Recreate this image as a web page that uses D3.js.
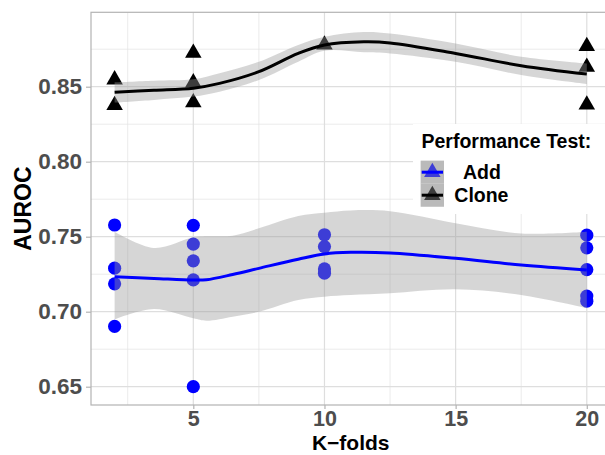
<!DOCTYPE html>
<html>
<head>
<meta charset="utf-8">
<script src="https://cdn.jsdelivr.net/npm/d3@7"></script>
<style>
  html, body { margin: 0; padding: 0; background: #fff; }
  svg { display: block; font-family: "Liberation Sans", Arial, Helvetica, sans-serif; }
</style>
</head>
<body>
<svg id="chart" width="605" height="455"></svg>
<script>
// Observed AUROC per repeat, by number of folds
const addK      = [2, 2, 2, 2, 5, 5, 5, 5, 5, 10, 10, 10, 10, 20, 20, 20, 20, 20];
const addAuroc  = [0.7578, 0.7290, 0.7186, 0.6902, 0.7576, 0.7451, 0.7339, 0.7212, 0.6500,
                   0.7513, 0.7434, 0.7285, 0.7257, 0.7510, 0.7426, 0.7280, 0.7104, 0.7070];
const cloneK     = [2, 2, 5, 5, 5, 10, 20, 20, 20];
const cloneAuroc = [0.8547, 0.8376, 0.8724, 0.8527, 0.8394, 0.8779, 0.8770, 0.8631, 0.8380];

// Smoothed trend (fit with confidence band) sampled along K
const addSmoothK   = [2, 3.5, 5, 5.5, 6.5, 7.5, 9, 10, 11, 12.5, 15, 17.5, 20];
const addFit       = [0.7233, 0.7222, 0.7211, 0.7213, 0.7248, 0.7289, 0.7350, 0.7385, 0.7396, 0.7392, 0.7356, 0.7311, 0.7278];
const addLower     = [0.6949, 0.7018, 0.6956, 0.6940, 0.6967, 0.7000, 0.7078, 0.7100, 0.7111, 0.7123, 0.7149, 0.7111, 0.7023];
const addUpper     = [0.7533, 0.7425, 0.7496, 0.7503, 0.7507, 0.7556, 0.7638, 0.7660, 0.7675, 0.7670, 0.7590, 0.7522, 0.7533];

const cloneSmoothK = [2, 3.5, 5, 6, 7.5, 9, 10, 11.5, 12.5, 15, 17.5, 20];
const cloneFit     = [0.8463, 0.8476, 0.8490, 0.8522, 0.8600, 0.8722, 0.8778, 0.8799, 0.8792, 0.8722, 0.8640, 0.8584];
const cloneLower   = [0.8394, 0.8412, 0.8434, 0.8467, 0.8545, 0.8667, 0.8740, 0.8729, 0.8722, 0.8666, 0.8578, 0.8518];
const cloneUpper   = [0.8529, 0.8540, 0.8549, 0.8589, 0.8666, 0.8778, 0.8833, 0.8865, 0.8855, 0.8788, 0.8700, 0.8655];

const xTicks = [5, 10, 15, 20];
const xMinor = [2.5, 7.5, 12.5, 17.5];
const yTicks = [0.65, 0.70, 0.75, 0.80, 0.85];
const yMinor = [0.675, 0.725, 0.775, 0.825, 0.875];

const legendTitle = "Performance Test:";
const groups = ["Add", "Clone"];
const groupColor = { Add: "#0000ff", Clone: "#000000" };

const svg = d3.select("#chart");
const panel = { left: 91, right: 610.4, top: 12.3, bottom: 405 };

const x = d3.scaleLinear().domain([1.1, 20.9]).range([panel.left, panel.right]);
const y = d3.scaleLinear().domain([0.6378, 0.8996]).range([panel.bottom, panel.top]);

svg.append("defs").append("clipPath").attr("id", "panelClip")
  .append("rect")
  .attr("x", panel.left).attr("y", panel.top)
  .attr("width", panel.right - panel.left).attr("height", panel.bottom - panel.top);

// grid
const grid = svg.append("g");
grid.selectAll(".xmin").data(xMinor).join("line")
  .attr("x1", d => x(d)).attr("x2", d => x(d))
  .attr("y1", panel.top).attr("y2", panel.bottom)
  .attr("stroke", "#e3e3e3").attr("stroke-width", 0.7);
grid.selectAll(".ymin").data(yMinor).join("line")
  .attr("y1", d => y(d)).attr("y2", d => y(d))
  .attr("x1", panel.left).attr("x2", panel.right)
  .attr("stroke", "#e3e3e3").attr("stroke-width", 0.7);
grid.selectAll(".xmaj").data(xTicks).join("line")
  .attr("x1", d => x(d)).attr("x2", d => x(d))
  .attr("y1", panel.top).attr("y2", panel.bottom)
  .attr("stroke", "#dedede").attr("stroke-width", 1.2);
grid.selectAll(".ymaj").data(yTicks).join("line")
  .attr("y1", d => y(d)).attr("y2", d => y(d))
  .attr("x1", panel.left).attr("x2", panel.right)
  .attr("stroke", "#dedede").attr("stroke-width", 1.2);

const plot = svg.append("g").attr("clip-path", "url(#panelClip)");

// points
const tri = d3.symbol().type(d3.symbolTriangle).size(118);
plot.selectAll(".add").data(addK.map((k, i) => [k, addAuroc[i]])).join("circle")
  .attr("cx", d => x(d[0])).attr("cy", d => y(d[1])).attr("r", 6.6)
  .attr("fill", groupColor.Add);
plot.selectAll(".clone").data(cloneK.map((k, i) => [k, cloneAuroc[i]])).join("path")
  .attr("d", tri)
  .attr("transform", d => `translate(${x(d[0])},${y(d[1])})`)
  .attr("fill", groupColor.Clone);

// smooth bands and fitted lines
const curve = d3.curveCatmullRom.alpha(0.5);
function smooth(ks, fit, lo, hi, color) {
  const rows = ks.map((k, i) => ({ k, fit: fit[i], lo: lo[i], hi: hi[i] }));
  plot.append("path").datum(rows)
    .attr("d", d3.area().x(d => x(d.k)).y0(d => y(d.lo)).y1(d => y(d.hi)).curve(curve))
    .attr("fill", "#999999").attr("fill-opacity", 0.4);
  return () => plot.append("path").datum(rows)
    .attr("d", d3.line().x(d => x(d.k)).y(d => y(d.fit)).curve(curve))
    .attr("fill", "none").attr("stroke", color).attr("stroke-width", 3);
}
const addLine = smooth(addSmoothK, addFit, addLower, addUpper, groupColor.Add);
const cloneLine = smooth(cloneSmoothK, cloneFit, cloneLower, cloneUpper, groupColor.Clone);
addLine();
cloneLine();

// panel border
svg.append("rect")
  .attr("x", panel.left).attr("y", panel.top)
  .attr("width", panel.right - panel.left).attr("height", panel.bottom - panel.top)
  .attr("fill", "none").attr("stroke", "#b3b3b3").attr("stroke-width", 1.2);

// axes
const yAxis = svg.append("g").attr("transform", `translate(${panel.left},0)`)
  .call(d3.axisLeft(y).tickValues(yTicks).tickFormat(d3.format(".2f")).tickSize(5).tickPadding(4));
const xAxis = svg.append("g").attr("transform", `translate(0,${panel.bottom})`)
  .call(d3.axisBottom(x).tickValues(xTicks).tickFormat(d3.format("d")).tickSize(4).tickPadding(2));
[yAxis, xAxis].forEach(a => {
  a.select(".domain").remove();
  a.selectAll(".tick line").attr("stroke", "#b3b3b3").attr("stroke-width", 1.2);
  a.selectAll(".tick text").attr("fill", "#4d4d4d").attr("font-size", 22.5)
    .attr("font-weight", "bold").attr("font-family", "Liberation Sans, Arial, sans-serif");
});
xAxis.selectAll(".tick text").attr("font-size", 21.5);

// axis titles
svg.append("text")
  .attr("x", (panel.left + panel.right) / 2).attr("y", 450)
  .attr("text-anchor", "middle").attr("font-size", 21).attr("font-weight", "bold")
  .attr("fill", "#000").text("K\u2212folds");
svg.append("text")
  .attr("transform", `translate(30.5,${(panel.top + panel.bottom) / 2}) rotate(-90)`)
  .attr("text-anchor", "middle").attr("font-size", 23).attr("font-weight", "bold")
  .attr("fill", "#000").text("AUROC");

// legend
const lg = svg.append("g");
lg.append("rect").attr("x", 413).attr("y", 124).attr("width", 200).attr("height", 90).attr("fill", "#fff");
lg.append("text").attr("x", 421.5).attr("y", 148.3)
  .attr("font-size", 19.5).attr("font-weight", "bold").attr("fill", "#000").text(legendTitle);
const keyX = 420.7, keyW = 23.3, keyH = 23, keyY0 = 160.7;
const labelX = { Add: 463, Clone: 454.3 };
const labelY = { Add: 178.6, Clone: 201.8 };
groups.forEach((g, i) => {
  const ky = keyY0 + i * keyH;
  const cx = keyX + keyW / 2, cy = ky + keyH / 2;
  lg.append("rect").attr("x", keyX).attr("y", ky).attr("width", keyW).attr("height", keyH)
    .attr("fill", "#d0d0d0");
  lg.append("path").attr("d", tri).attr("transform", `translate(${cx},${cy})`)
    .attr("fill", groupColor[g]);
  lg.append("rect").attr("x", keyX).attr("y", ky).attr("width", keyW).attr("height", keyH)
    .attr("fill", "#999999").attr("fill-opacity", 0.4);
  lg.append("line").attr("x1", keyX + 1).attr("x2", keyX + keyW - 1)
    .attr("y1", cy).attr("y2", cy)
    .attr("stroke", groupColor[g]).attr("stroke-width", 3);
  lg.append("text").attr("x", labelX[g]).attr("y", labelY[g])
    .attr("font-size", 19.5).attr("font-weight", "bold").attr("fill", "#000").text(g);
});
</script>
</body>
</html>
